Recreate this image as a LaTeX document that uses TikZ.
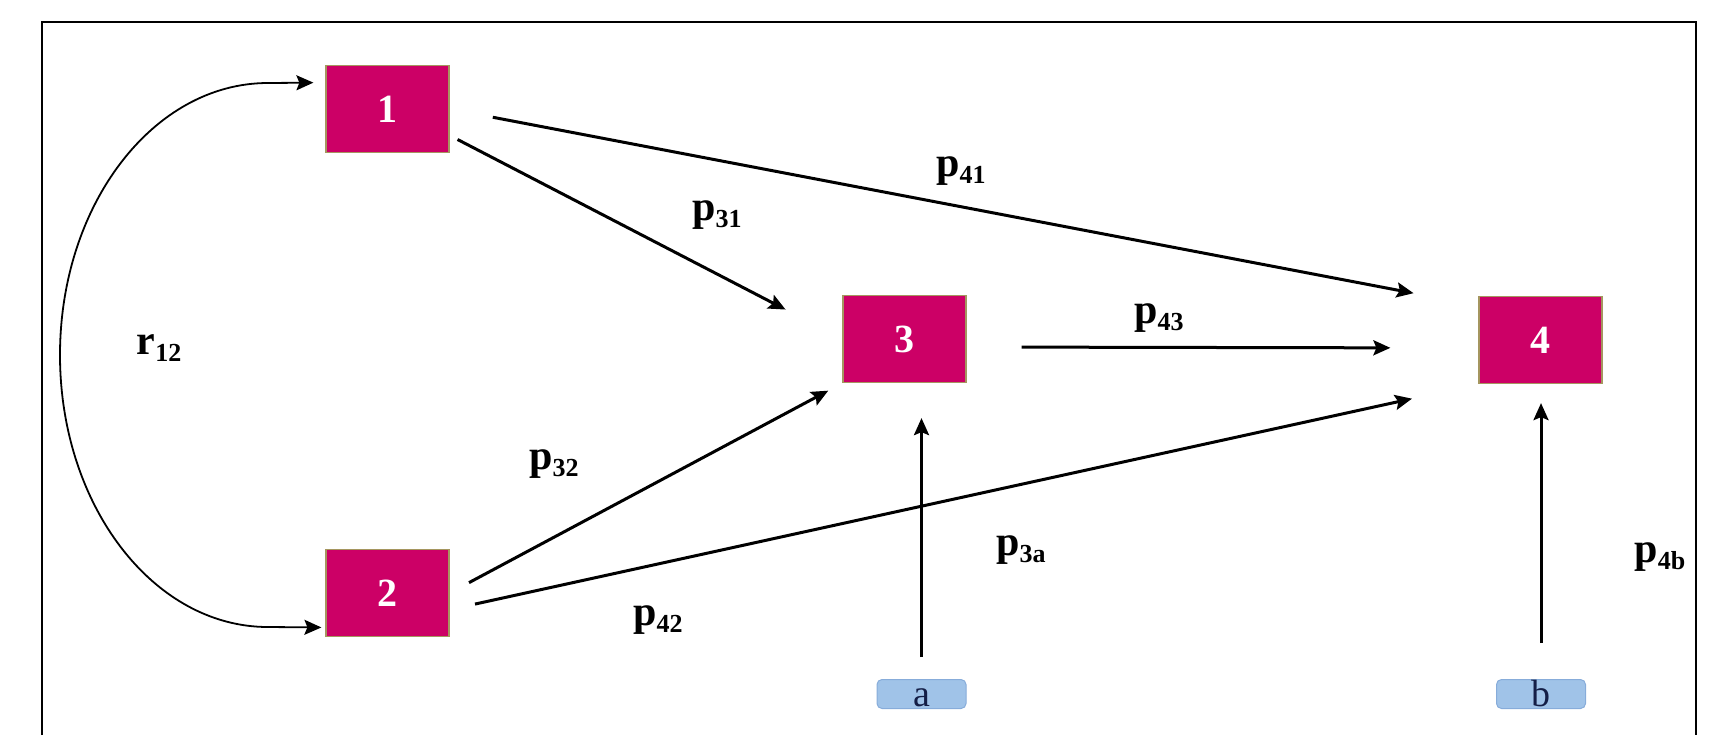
\documentclass[tikz,border=0pt]{standalone}
\usepackage{fontspec}
\setmainfont{Liberation Serif}
\usetikzlibrary{arrows.meta}

\definecolor{varfill}{RGB}{204,0,102}
\definecolor{varedge}{RGB}{165,150,95}
\definecolor{errfill}{RGB}{160,195,232}
\definecolor{erredge}{RGB}{135,172,218}
\definecolor{errtext}{RGB}{20,30,70}

\newcommand{\pcoef}[2]{#1\raisebox{-3.6pt}{\fontsize{13}{13}\selectfont #2}}

\begin{document}
\begin{tikzpicture}[
x=0.5pt,y=-0.5pt,
>={Stealth[length=8.5pt,width=7.5pt,inset=1.5pt]},
var/.style={draw=varedge,line width=0.6pt,fill=varfill,text=white,
  minimum width=61.5pt,minimum height=43.5pt,inner sep=0pt,
  font=\bfseries\fontsize{20}{20}\selectfont},
err/.style={draw=erredge,line width=0.5pt,fill=errfill,text=errtext,rounded corners=2.5pt,
  minimum width=44.5pt,minimum height=14.5pt,inner sep=0pt,text height=12pt,text depth=0pt,
  font=\fontsize{19}{19}\selectfont},
link/.style={->,line width=1.5pt},
coef/.style={font=\bfseries\fontsize{21}{21}\selectfont}
]
\useasboundingbox (0,0) rectangle (1712,735);

% frame, open at the bottom
\draw[line width=1pt] (41.5,735) -- (41.5,22) -- (1696,22) -- (1696,735);

\node[var] (n1) at (387.5,109) {1};
\node[var] (n2) at (387.5,593) {2};
	\node[var] (n3) at (904.5,339) {3};
		\node[var] (n4) at (1540.5,340) {4};
	\node[err] (a) at (921.5,694) {a};
		\node[err] (b) at (1541,694) {b};

\draw[<->,line width=0.9pt] ([xshift=-2pt]n2.209) -- (268,627)
	.. controls (153,627) and (60,505) .. (60,355)
	.. controls (60,205) and (153,83) .. (268,83) -- ([xshift=-6pt]n1.157);
\draw[link,shorten <=4.5pt,shorten >=32pt] (n1.-23) -- (n3.west);
\draw[link,shorten <=22pt,shorten >=33pt] (n1.east) -- (n4.151);
\draw[link,shorten <=11pt,shorten >=8pt] (n2.east) -- (n3.south west);
\draw[link,shorten <=13pt,shorten >=34pt] (n2.-15) -- (n4.south west);
\draw[link,shorten <=27.5pt,shorten >=44pt] ([yshift=-4pt]n3.east) -- ([yshift=-4pt]n4.west);
	\draw[link,shorten <=11pt,shorten >=17.5pt] (a.north) -- (a.north |- n3.south);
	\draw[link,shorten <=18pt,shorten >=9.5pt] (b.north) -- (b.north |- n4.south);

\node[coef] (r12) at (159,348) {\pcoef{r}{12}};
\node[coef] (p41) at (961,171) {\pcoef{p}{41}};
\node[coef] (p31) at (717,215) {\pcoef{p}{31}};
\node[coef] (p43) at (1159,318) {\pcoef{p}{43}};
\node[coef] (p32) at (554,464) {\pcoef{p}{32}};
\node[coef] (p42) at (658,620) {\pcoef{p}{42}};
\node[coef] (p3a) at (1021,550) {\pcoef{p}{3a}};
\node[coef] (p4b) at (1660,557) {\pcoef{p}{4b}};

\end{tikzpicture}
\end{document}
